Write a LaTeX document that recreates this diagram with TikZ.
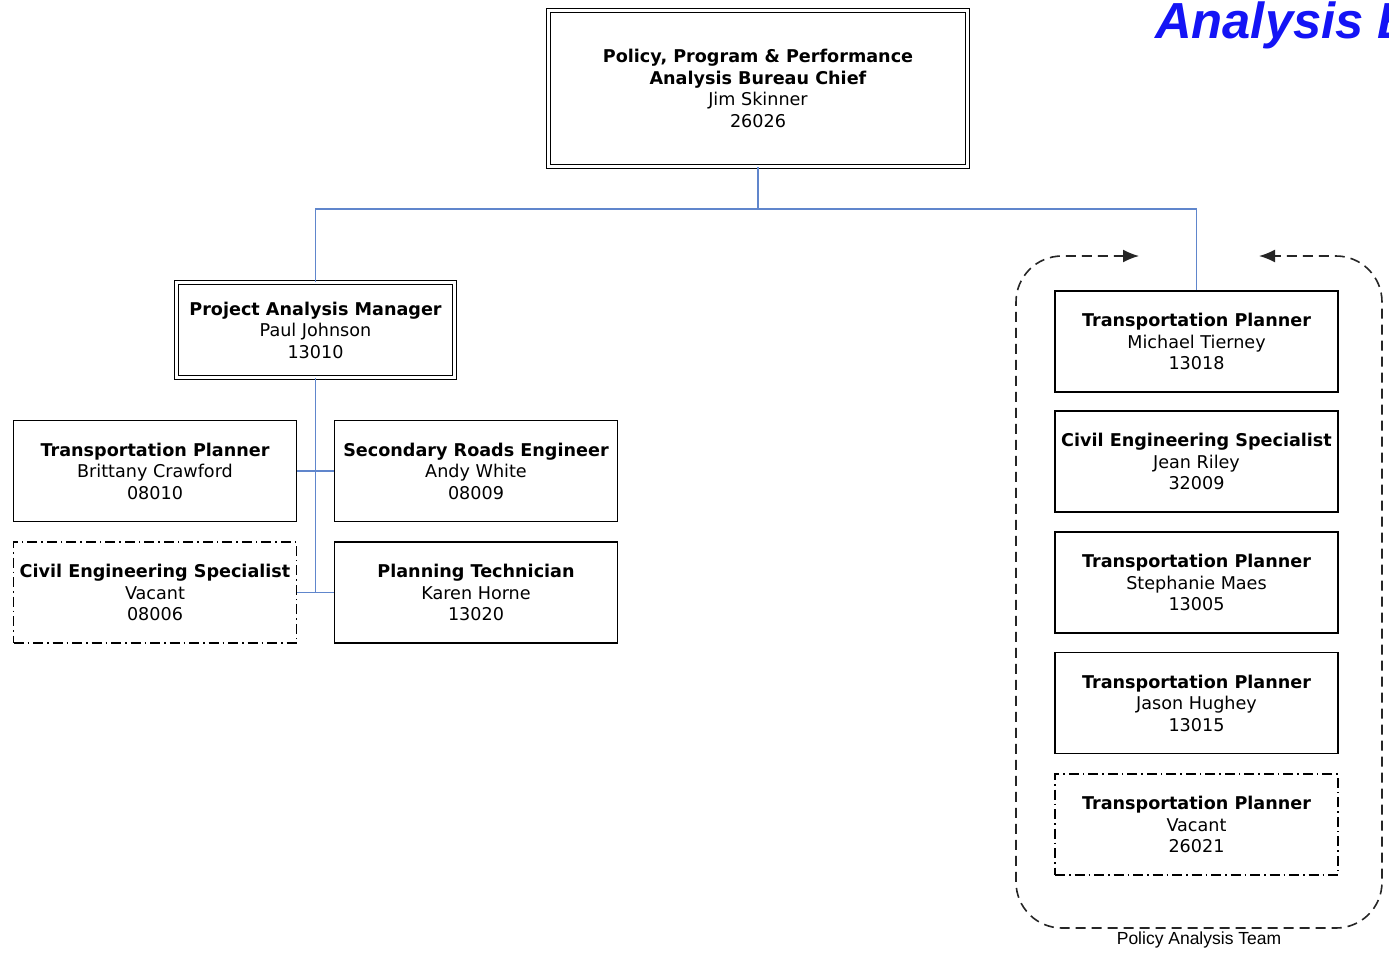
\documentclass[tikz,border=0pt]{standalone}
\usepackage{fontspec}
\setmainfont{DejaVu Sans}
\newfontfamily\labelfont{Liberation Sans}
\usetikzlibrary{arrows.meta}
\definecolor{linkblue}{RGB}{96,134,204}
\definecolor{titleblue}{RGB}{20,20,245}
\tikzset{
  orgbox/.style={draw=black, line width=1.2pt, fill=white, minimum width=283pt, minimum height=101pt,
    inner sep=0pt, align=center, font=\fontsize{17.6}{21.5}\selectfont},
  vacantbox/.style={orgbox, dash pattern=on 10pt off 4pt on 1.5pt off 4pt},
  headbox/.style={orgbox, double, double distance=2.4pt, line width=1.1pt},
  link/.style={draw=linkblue, line width=1.1pt},
  teamline/.style={draw=black!85, line width=1.6pt, dash pattern=on 10pt off 6pt, rounded corners=46pt},
  teamtip/.tip={Latex[length=16pt,width=13pt]},
}
\begin{document}
\begin{tikzpicture}[x=1pt,y=-1pt]
\useasboundingbox (0,0) rectangle (1389,956);
\begin{scope}
\clip (0,0) rectangle (1389,956);
\node[anchor=base west, inner sep=0pt, text=titleblue, font=\labelfont\bfseries\itshape\fontsize{50.7}{56}\selectfont] (title) at (1155,38) {Analysis B};
\end{scope}

% head
\node[headbox, minimum width=419pt, minimum height=156pt] (chief) at (758,88.5)
  {\textbf{Policy, Program \& Performance}\\\textbf{Analysis Bureau Chief}\\Jim Skinner\\26026};

% left branch
\node[headbox, minimum width=278pt, minimum height=95pt] (pam) at (315.5,330)
  {\textbf{Project Analysis Manager}\\Paul Johnson\\13010};
\node[orgbox] (tpb) at (155,471) {\textbf{Transportation Planner}\\Brittany Crawford\\08010};
\node[orgbox] (sre) at (476,471) {\textbf{Secondary Roads Engineer}\\Andy White\\08009};
\node[vacantbox] (ces) at (155,592.5) {\textbf{Civil Engineering Specialist}\\Vacant\\08006};
\node[orgbox] (plt) at (476,592.5) {\textbf{Planning Technician}\\Karen Horne\\13020};

% right team
\node[orgbox] (tmt) at (1196.5,341.5) {\textbf{Transportation Planner}\\Michael Tierney\\13018};
\node[orgbox] (cjr) at (1196.5,461.5) {\textbf{Civil Engineering Specialist}\\Jean Riley\\32009};
\node[orgbox] (tsm) at (1196.5,582.5) {\textbf{Transportation Planner}\\Stephanie Maes\\13005};
\node[orgbox] (tjh) at (1196.5,703) {\textbf{Transportation Planner}\\Jason Hughey\\13015};
\node[vacantbox] (tvc) at (1196.5,824.5) {\textbf{Transportation Planner}\\Vacant\\26021};

% connectors
\coordinate (junction) at (758,209);
\draw[link] (chief.south) -- (junction);
\draw[link] (junction) -| (pam.north);
\draw[link] (junction) -| (tmt.north);
\coordinate (pambottom) at (pam.south |- ces.east);
\draw[link] (pam.south) -- (pambottom);
\draw[link] (tpb.east) -- (sre.west);
\draw[link] (ces.east) -- (plt.west);

% team boundary
\draw[teamline, teamtip-teamtip]
  (1139,256) -- (1016,256) -- (1016,928) -- (1382,928) -- (1382,256) -- (1259,256);
\node[font=\labelfont\fontsize{17.5}{20}\selectfont, inner sep=0pt] (team) at (1199,940) {Policy Analysis Team};
\end{tikzpicture}
\end{document}
